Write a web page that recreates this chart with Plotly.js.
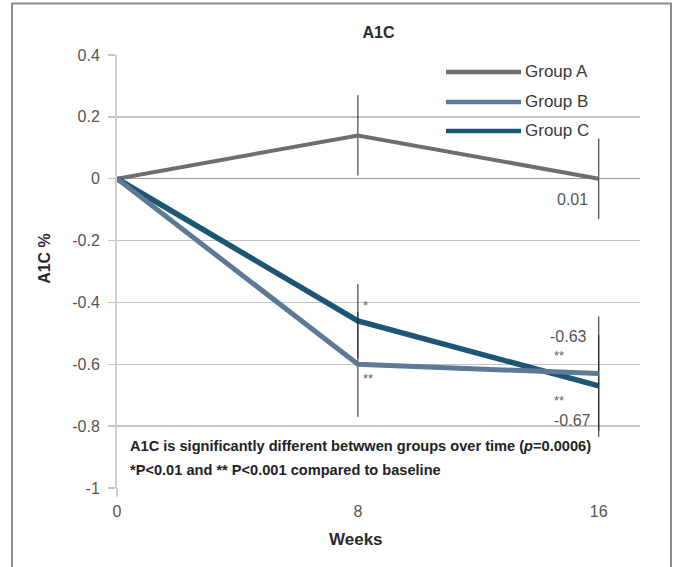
<!DOCTYPE html>
<html>
<head>
<meta charset="utf-8">
<script src="https://cdn.plot.ly/plotly-3.0.1.min.js"></script>
<style>
  html, body { margin: 0; padding: 0; background: #fff; }
  #chart { width: 686px; height: 567px; }
</style>
</head>
<body>
<div id="chart"></div>
<script>
// ---- data ----
const weeks = [0, 8, 16];
const seriesNames = ['Group A', 'Group B', 'Group C'];
const groupA = [0, 0.14, 0];
const groupB = [0, -0.60, -0.63];
const groupC = [0, -0.46, -0.67];
const errA = [0, 0.13, 0.13];
const errB = [0, 0.17, 0.185];
const errC = [0, 0.12, 0.165];
const yTickVals = [-1, -0.8, -0.6, -0.4, -0.2, 0, 0.2, 0.4];
const yTickText = ['-1', '-0.8', '-0.6', '-0.4', '-0.2', '0', '0.2', '0.4'];
const xTickVals = [0, 8, 16];
const xTickText = ['0', '8', '16'];
const endLabels = ['0.01', '-0.63', '-0.67'];
const sigMarks = { c8: '*', b8: '**', b16: '**', c16: '**' };
const chartTitle = 'A1C';
const xTitle = 'Weeks';
const yTitle = 'A1C %';
const note1 = 'A1C is significantly different betwwen groups over time (<i>p</i>=0.0006)';
const note2 = '*P&lt;0.01 and ** P&lt;0.001 compared to baseline';

// ---- styles ----
const colors = ['#6e6e70', '#5e7898', '#1d5575'];
const widths = [4, 5, 5.5];
const narrow = '"Liberation Sans Narrow", "Arial Narrow", "Liberation Sans", sans-serif';
const sans = '"Liberation Sans", Arial, sans-serif';

function trace(y, err, i) {
  return {
    x: weeks, y: y, type: 'scatter', mode: 'lines', name: seriesNames[i],
    line: { color: colors[i], width: widths[i] },
    error_y: { type: 'data', array: err, visible: true, color: '#222', thickness: 1, width: 0 },
    showlegend: false, hoverinfo: 'skip'
  };
}
const data = [trace(groupA, errA, 0), trace(groupC, errC, 2), trace(groupB, errB, 1)];

// manual legend
const legY = [0.9608, 0.8915, 0.8246];
const shapes = [];
const annotations = [];
seriesNames.forEach((n, i) => {
  shapes.push({ type: 'line', xref: 'paper', yref: 'paper', x0: 0.629, x1: 0.7725, y0: legY[i], y1: legY[i],
    line: { color: colors[i], width: 4.5 } });
  annotations.push({ xref: 'paper', yref: 'paper', x: 0.776, y: legY[i], xanchor: 'left', yanchor: 'middle',
    text: n, showarrow: false, font: { family: sans, size: 17, color: '#3a3a3a' } });
});
// axis extension below origin
shapes.push({ type: 'line', xref: 'paper', yref: 'paper', x0: 0, x1: 0, y0: 0, y1: -0.02,
  line: { color: '#cfcfcf', width: 2 } });
// frame
shapes.push({ type: 'rect', xref: 'paper', yref: 'paper', x0: -0.2008, x1: 1.0593, y0: 1.119, y1: -0.2,
  line: { color: '#8c8c8c', width: 2 } });

const valFont = { family: sans, size: 16, color: '#555' };
const starFont = { family: sans, size: 13, color: '#666' };
annotations.push(
  { x: weeks[2], y: groupA[2], text: endLabels[0], showarrow: false, xanchor: 'right', yanchor: 'middle', xshift: -9, yshift: -21, font: valFont },
  { x: weeks[2], y: groupB[2], text: endLabels[1], showarrow: false, xanchor: 'right', yanchor: 'middle', xshift: -10, yshift: 37, font: valFont },
  { x: weeks[2], y: groupC[2], text: endLabels[2], showarrow: false, xanchor: 'right', yanchor: 'middle', xshift: -6, yshift: -35, font: valFont },
  { x: weeks[1], y: groupC[1], text: sigMarks.c8, showarrow: false, xanchor: 'left', yanchor: 'middle', xshift: 3, yshift: 15, font: starFont },
  { x: weeks[1], y: groupB[1], text: sigMarks.b8, showarrow: false, xanchor: 'left', yanchor: 'middle', xshift: 3, yshift: -14, font: starFont },
  { x: weeks[2], y: groupB[2], text: sigMarks.b16, showarrow: false, xanchor: 'center', yanchor: 'middle', xshift: -40, yshift: 18, font: starFont },
  { x: weeks[2], y: groupC[2], text: sigMarks.c16, showarrow: false, xanchor: 'center', yanchor: 'middle', xshift: -40, yshift: -15, font: starFont },
  { xref: 'paper', yref: 'paper', x: 0.021, y: 0.096, xanchor: 'left', yanchor: 'middle', showarrow: false,
    text: '<b>' + note1 + '</b>', font: { family: narrow, size: 14.6, color: '#222' } },
  { xref: 'paper', yref: 'paper', x: 0.021, y: 0.0406, xanchor: 'left', yanchor: 'middle', showarrow: false,
    text: '<b>' + note2 + '</b>', font: { family: narrow, size: 14.6, color: '#222' } },
  { xref: 'paper', yref: 'paper', x: 0.457, y: -0.119, xanchor: 'center', yanchor: 'middle', showarrow: false,
    text: '<b>' + xTitle + '</b>', font: { family: sans, size: 17, color: '#2a2a2a' } },
  { xref: 'paper', yref: 'paper', x: -0.1377, y: 0.5315, xanchor: 'center', yanchor: 'middle', showarrow: false, textangle: -90,
    text: '<b>' + yTitle + '</b>', font: { family: sans, size: 16, color: '#2a2a2a' } }
);

const layout = {
  width: 686, height: 567,
  margin: { l: 117, r: 46, t: 55, b: 79 },
  paper_bgcolor: '#fff', plot_bgcolor: '#fff',
  title: { text: '<b>' + chartTitle + '</b>', x: 0.5, xref: 'paper', y: 0.942, yref: 'container', yanchor: 'middle',
    font: { family: sans, size: 16, color: '#2a2a2a' } },
  xaxis: {
    range: [0, 17.37], tickvals: xTickVals, ticktext: xTickText, showgrid: false, zeroline: false,
    showline: false, ticks: '', ticklabelstandoff: 12,
    tickfont: { family: sans, size: 16, color: '#555' }
  },
  yaxis: {
    range: [-1, 0.4], tickvals: yTickVals, ticktext: yTickText, showgrid: true, gridcolor: '#c4c4c4', gridwidth: 1.5,
    zeroline: true, zerolinecolor: '#9a9a9a', zerolinewidth: 1.5,
    showline: true, linecolor: '#cfcfcf', linewidth: 2,
    ticks: 'outside', ticklen: 7, tickcolor: '#c4c4c4', tickwidth: 1.5, ticklabelstandoff: 5,
    tickfont: { family: sans, size: 16, color: '#555' }
  },
  shapes: shapes,
  annotations: annotations,
  showlegend: false
};

Plotly.newPlot('chart', data, layout, { displayModeBar: false, staticPlot: true });
</script>
</body>
</html>
